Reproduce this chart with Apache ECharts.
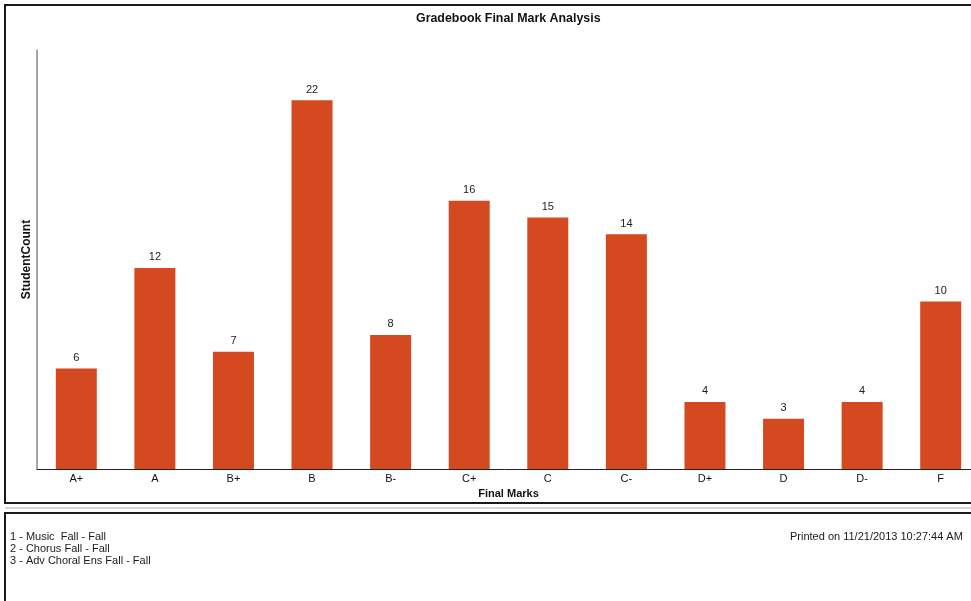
<!DOCTYPE html>
<html>
<head>
<meta charset="utf-8">
<script src="https://cdn.jsdelivr.net/npm/echarts@6/dist/echarts.min.js"></script>
<style>
html,body{margin:0;padding:0;background:#fff;}
#chart{width:971px;height:601px;}
</style>
</head>
<body>
<div id="chart"></div>
<script>
var categories = ['A+', 'A', 'B+', 'B', 'B-', 'C+', 'C', 'C-', 'D+', 'D', 'D-', 'F'];
var studentCounts = [6, 12, 7, 22, 8, 16, 15, 14, 4, 3, 4, 10];
var footerLines = ['1 - Music  Fall - Fall', '2 - Chorus Fall - Fall', '3 - Adv Choral Ens Fall - Fall'];
var printedText = 'Printed on 11/21/2013 10:27:44 AM';
var chartTitle = 'Gradebook Final Mark Analysis';

var FONT = '"Liberation Sans", Arial, sans-serif';
var chart = echarts.init(document.getElementById('chart'), null, {renderer: 'canvas'});

var graphics = [
  {type: 'rect', shape: {x: 5, y: 5, width: 1100, height: 498}, style: {fill: 'none', stroke: '#1a1a1a', lineWidth: 2}, silent: true, z: 0},
  {type: 'line', shape: {x1: 5, y1: 508, x2: 1100, y2: 508}, style: {stroke: '#aaaaaa', lineWidth: 1}, silent: true},
  {type: 'rect', shape: {x: 5, y: 513, width: 1100, height: 200}, style: {fill: 'none', stroke: '#1a1a1a', lineWidth: 2}, silent: true},
  {type: 'text', x: 790, y: 537, style: {text: printedText, font: '11px ' + FONT, fill: '#1a1a1a', verticalAlign: 'middle', align: 'left'}}
];
footerLines.forEach(function (t, i) {
  graphics.push({type: 'text', x: 10, y: 537 + i * 12, style: {text: t, font: '11px ' + FONT, fill: '#1a1a1a', verticalAlign: 'middle', align: 'left'}});
});

chart.setOption({
  backgroundColor: '#ffffff',
  animation: false,
  title: {
    text: chartTitle,
    left: 411,
    top: 8,
    textStyle: {fontFamily: FONT, fontSize: 12.4, fontWeight: 'bold', color: '#111'}
  },
  grid: {left: 37, right: -9, top: 50, bottom: 132, containLabel: false, outerBoundsMode: 'none'},
  xAxis: {
    type: 'category',
    data: categories,
    name: 'Final Marks',
    nameLocation: 'middle',
    nameGap: 16,
    nameTextStyle: {fontFamily: FONT, fontSize: 11, fontWeight: 'bold', color: '#111'},
    axisLine: {lineStyle: {color: '#222', width: 1}},
    axisTick: {show: false},
    axisLabel: {fontFamily: FONT, fontSize: 11, color: '#111', margin: 4}
  },
  yAxis: {
    type: 'value',
    min: 0,
    max: 25,
    name: 'StudentCount',
    nameLocation: 'middle',
    nameGap: 4,
    nameTextStyle: {fontFamily: FONT, fontSize: 12, fontWeight: 'bold', color: '#111'},
    axisLine: {show: true, lineStyle: {color: '#888', width: 1.5}},
    axisTick: {show: false},
    axisLabel: {show: false},
    splitLine: {show: false}
  },
  series: [{
    type: 'bar',
    data: studentCounts,
    barWidth: 41,
    itemStyle: {color: '#D4491F'},
    label: {show: true, position: 'top', distance: 5, fontFamily: FONT, fontSize: 11, color: '#222'}
  }],
  graphic: graphics
});
</script>
</body>
</html>
